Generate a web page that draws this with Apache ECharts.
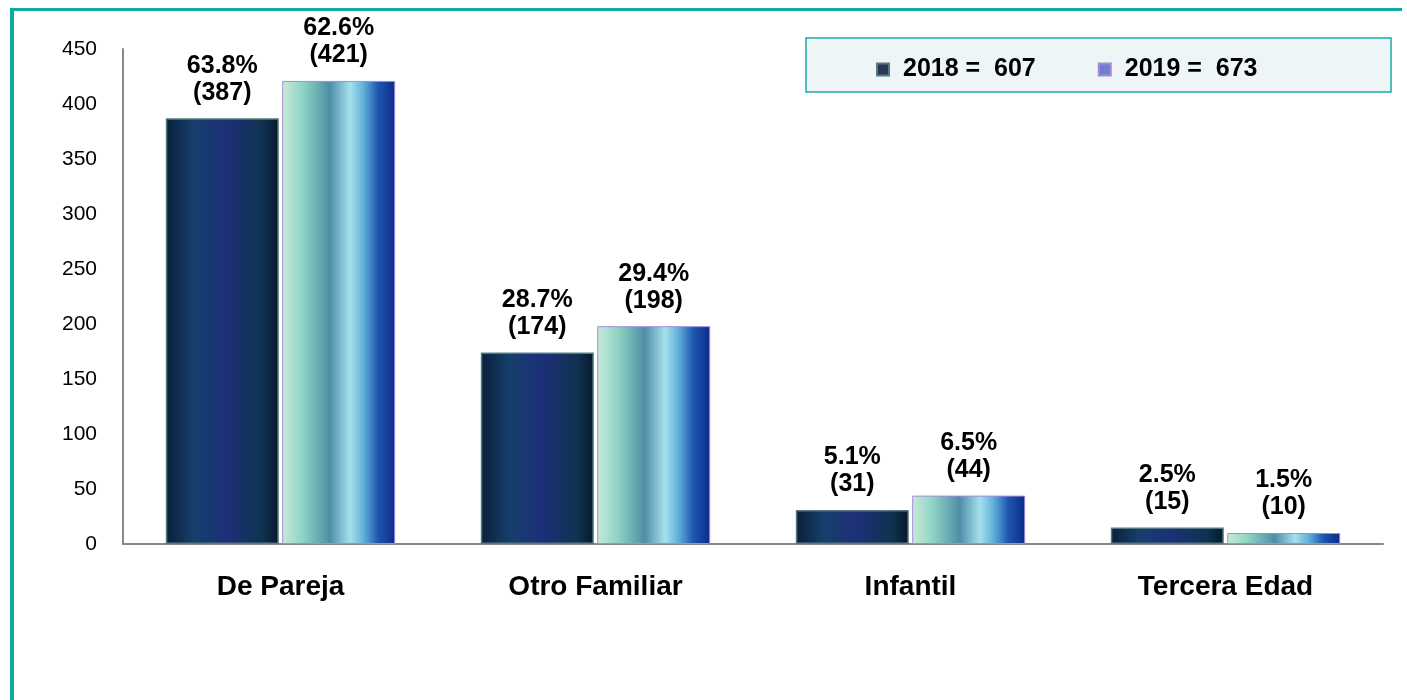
<!DOCTYPE html>
<html>
<head>
<meta charset="utf-8">
<script src="https://cdn.jsdelivr.net/npm/echarts@6/dist/echarts.min.js"></script>
<style>
  html, body { margin: 0; padding: 0; background: #fff; }
  #main { width: 1407px; height: 700px; }
</style>
</head>
<body>
<div id="main"></div>
<script>
var categories = ['De Pareja', 'Otro Familiar', 'Infantil', 'Tercera Edad']
var years = ['2018', '2019']
var values2018 = [387, 174, 31, 15]
var values2019 = [421, 198, 44, 10]
var pct2018 = [63.8, 28.7, 5.1, 2.5]
var pct2019 = [62.6, 29.4, 6.5, 1.5]
var yTicks = [0, 50, 100, 150, 200, 250, 300, 350, 400, 450]

var font = "'Liberation Sans', Arial, sans-serif"
var teal = '#12a8a2'

function sum(arr) {
    return arr.reduce(function (a, b) { return a + b }, 0)
}
var totals = {
    '2018': sum(values2018),
    '2019': sum(values2019)
}

var myChart = echarts.init(document.getElementById('main'))

let barLabel = function (pcts) {
    return {
        show: true,
        position: 'top',
        distance: 12,
        fontFamily: font,
        fontSize: 25,
        fontWeight: 'bold',
        lineHeight: 27,
        color: '#000',
        formatter: function (p) {
            return pcts[p.dataIndex].toFixed(1) + '%\n(' + p.value + ')'
        }
    }
}

myChart.setOption({
    backgroundColor: '#fff',
    animation: false,
    graphic: [
        // teal frame (top + left)
        { type: 'rect', z: 0, shape: { x: 10, y: 8, width: 1392, height: 3 }, style: { fill: teal } },
        { type: 'rect', z: 0, shape: { x: 10, y: 8, width: 4, height: 692 }, style: { fill: teal } },
        // legend box
        { type: 'rect', z: 0, shape: { x: 806, y: 38, width: 585, height: 54 },
          style: { fill: '#eef5f7', stroke: '#1fa9a4', lineWidth: 1.5 } }
    ],
    legend: {
        left: 871,
        top: 52,
        itemWidth: 12,
        itemHeight: 12,
        itemGap: 62,
        icon: 'rect',
        data: [
            { name: '2018', itemStyle: { color: '#2b3651' } },
            { name: '2019', itemStyle: { color: '#6f7fd0' } }
        ],
        textStyle: {
            fontFamily: font,
            fontSize: 25,
            fontWeight: 'bold',
            color: '#000',
            padding: [0, 0, 0, 9]
        },
        formatter: function (name) {
            return name + ' =  ' + totals[name]
        }
    },
    grid: {
        left: 123,
        right: 24,
        top: 49,
        bottom: 156
    },
    xAxis: {
        type: 'category',
        data: categories,
        axisLine: { show: true, lineStyle: { color: '#888', width: 2 } },
        axisTick: { show: false },
        axisLabel: {
            margin: 29,
            fontFamily: font,
            fontSize: 28,
            fontWeight: 'bold',
            color: '#000'
        }
    },
    yAxis: {
        type: 'value',
        min: yTicks[0],
        max: yTicks[yTicks.length - 1],
        interval: 50,
        axisLine: { show: true, lineStyle: { color: '#888', width: 2 } },
        axisTick: { show: false },
        splitLine: { show: false },
        axisLabel: {
            margin: 26,
            fontFamily: font,
            fontSize: 21,
            color: '#000'
        }
    },
    series: [{
        name: years[0],
        type: 'bar',
        barWidth: 113,
        barGap: '3%',
        data: values2018,
        label: barLabel(pct2018),
        itemStyle: {
            borderColor: '#557a84',
            borderWidth: 1.5,
            color: new echarts.graphic.LinearGradient(0, 0, 1, 0, [
                { offset: 0, color: '#0a1f3a' },
                { offset: 0.25, color: '#163f6c' },
                { offset: 0.55, color: '#1d2f78' },
                { offset: 0.85, color: '#0f3350' },
                { offset: 1, color: '#08182e' }
            ])
        }
    }, {
        name: years[1],
        type: 'bar',
        barWidth: 113,
        data: values2019,
        label: barLabel(pct2019),
        itemStyle: {
            borderColor: '#a48ad8',
            borderWidth: 1,
            color: new echarts.graphic.LinearGradient(0, 0, 1, 0, [
                { offset: 0, color: '#c8ead8' },
                { offset: 0.18, color: '#8fd4c4' },
                { offset: 0.42, color: '#4f8ea6' },
                { offset: 0.6, color: '#a6e0ee' },
                { offset: 0.72, color: '#5fb0d8' },
                { offset: 0.85, color: '#1f56b0' },
                { offset: 1, color: '#0c2a88' }
            ])
        }
    }]
})
</script>
</body>
</html>
